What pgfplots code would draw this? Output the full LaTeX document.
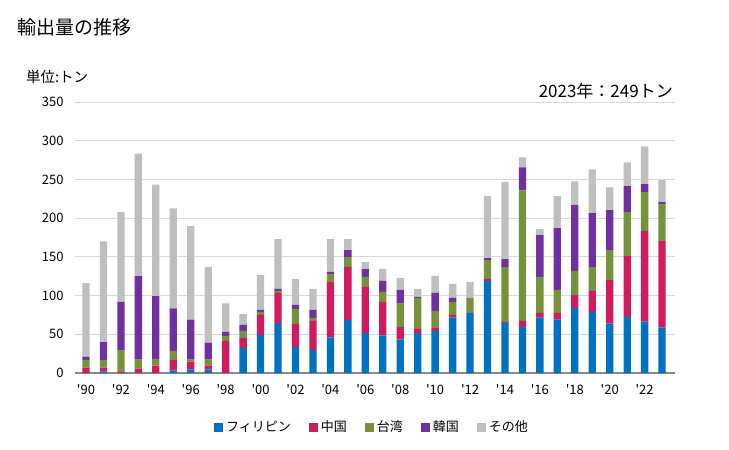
\documentclass[border=0pt]{standalone}
\usepackage{fontspec}
\setmainfont{Noto Sans CJK JP}[Ligatures=TeXOff]
\usepackage{pgfplots}
\usepackage{pgfplotstable}
\pgfplotsset{compat=1.18}
\definecolor{cPH}{HTML}{0070C0}
\definecolor{cCN}{HTML}{D01C5F}
\definecolor{cTW}{HTML}{76933C}
\definecolor{cKR}{HTML}{7030A0}
\definecolor{cOT}{HTML}{BFBFBF}
\definecolor{gridgray}{HTML}{D9D9D9}
\definecolor{axgray}{HTML}{898989}
\pgfplotstableread{
year PH CN TW KR OT
1990 0 7 10 4 95
1991 2 5 10 23 130
1992 0 2 27 63 116
1993 0 5.6 11.6 108 158
1994 0 9.4 9 81 144
1995 3 14 11.6 55 129
1996 4.7 10 2.6 51.5 121
1997 4.7 4.7 7.8 22 98
1998 0 41.6 6.4 5 37
1999 32.6 12.9 9 7.7 14
2000 49.4 25.7 3.9 2.5 45
2001 64.8 38.6 2.6 2.6 64.4
2002 33.9 29.6 19.3 5.2 33.5
2003 30 37.4 3.8 10.3 27
2004 45.9 71.7 10.3 2.6 42.5
2005 68.7 68.2 12.9 9 14.2
2006 51.9 59.3 12.8 10.3 9
2007 48.5 43.3 12.9 14.2 15.4
2008 43.3 16.4 30 17.6 15.4
2009 51.9 5.1 40 1.3 10.3
2010 54.5 4.3 21.5 23.1 21.9
2011 71.7 3.4 16.7 5.2 18
2012 77.7 0 19.3 0 20.6
2013 118.9 2.6 24.4 2.6 79.8
2014 64.8 1.3 70.8 10.3 99.2
2015 59.7 7.7 168.6 29.7 12.8
2016 71.7 6 46.3 54.1 7.7
2017 69.1 8.6 29.6 79.8 41.2
2018 84.1 16.8 30.9 84.9 30.9
2019 79 27 30.9 69.5 56.7
2020 63.9 56.3 38.6 51.5 29.6
2021 72.5 78.6 56.6 33.5 30.9
2022 66.5 116.8 50.2 10.3 48.9
2023 58.8 111.6 47.6 2.6 28.4
}\datatable
\begin{document}
\begin{tikzpicture}[x=1pt,y=1pt]
\useasboundingbox (0pt,0pt) rectangle (729pt,-450pt);
\node[anchor=west, inner sep=0pt, font=\fontsize{19}{21}\selectfont] at (17pt,-27pt) {輸出量の推移};
\node[anchor=west, inner sep=0pt, font=\fontsize{14.5}{16}\selectfont] at (26pt,-77pt) {単位:トン};
\node[anchor=east, inner sep=0pt, font=\fontsize{17}{19}\selectfont] at (673pt,-91pt) {2023年：249トン};
\begin{axis}[
  at={(75pt,-373pt)}, anchor=south west,
  width=600pt, height=271pt, scale only axis,
  ybar stacked, bar width=7.3pt,
  xmin=1989.37, xmax=2023.74, ymin=0, ymax=350,
  ytick={0,50,...,350},
  xtick={1990,1992,...,2022},
  xticklabels={'90,'92,'94,'96,'98,'00,'02,'04,'06,'08,'10,'12,'14,'16,'18,'20,'22},
  ymajorgrids, grid style={draw=gridgray, line width=0.9pt},
  axis line style={draw=none},
  major tick length=0pt,
  tick label style={font=\fontsize{13}{15}\selectfont},
  /pgf/number format/assume math mode=true,
  yticklabel style={anchor=east, xshift=-8pt},
  xticklabel style={yshift=-8pt},
  legend style={at={(0.495,-0.2)}, anchor=center, draw=none, fill=none,
    font=\fontsize{13}{15}\selectfont, legend columns=-1,
    /tikz/every even column/.append style={column sep=16pt},
    /tikz/every odd column/.append style={column sep=1pt}},
  legend image code/.code={\fill[#1,draw=none] (0pt,-5pt) rectangle (9pt,4pt);},
]
\addplot[fill=cPH, draw=none] table[x=year, y=PH] {\datatable};
\addplot[fill=cCN, draw=none] table[x=year, y=CN] {\datatable};
\addplot[fill=cTW, draw=none] table[x=year, y=TW] {\datatable};
\addplot[fill=cKR, draw=none] table[x=year, y=KR] {\datatable};
\addplot[fill=cOT, draw=none] table[x=year, y=OT] {\datatable};
\legend{フィリピン,中国,台湾,韓国,その他}
\draw[axgray, line width=1.3pt] (rel axis cs:0,0) -- (rel axis cs:1,0);
\end{axis}
\end{tikzpicture}
\end{document}
